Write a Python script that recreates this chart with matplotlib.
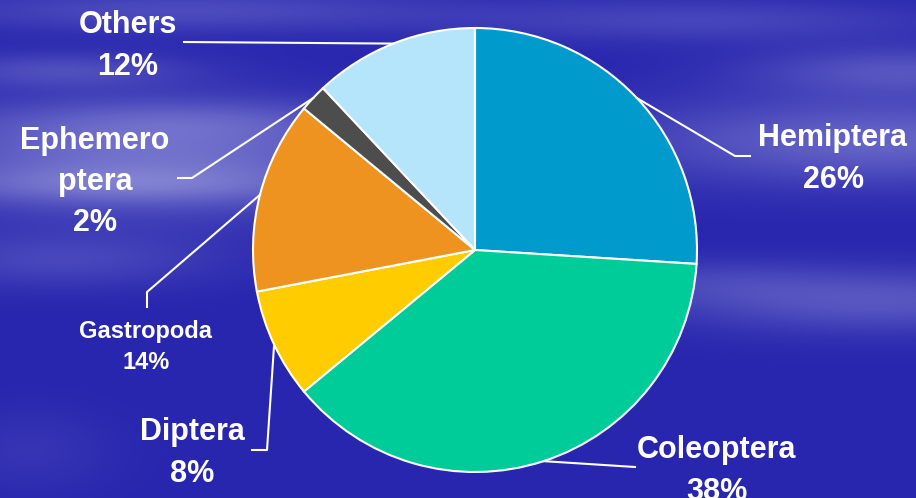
import numpy as np
import matplotlib.pyplot as plt

# insect groups in the diet, in percent
groups = ["Hemiptera", "Coleoptera", "Diptera", "Gastropoda", "Ephemero\nptera", "Others"]
shares = [26, 38, 8, 14, 2, 12]
colours = ["#009ACC", "#00CC99", "#FFCC00", "#EE931F", "#4D4D4D", "#B5E5FB"]

W, H = 916, 498
fig = plt.figure(figsize=(W / 100, H / 100), dpi=100)
ax = fig.add_axes([0, 0, 1, 1])

# blue sky-like backdrop with soft horizontal streaks
yy, xx = np.mgrid[0:H, 0:W]
bg = np.zeros((H, W))
streaks = [(150, 160, 260, 55, 0.6), (120, 185, 200, 18, 0.25), (180, 120, 200, 22, 0.22),
           (60, 70, 130, 18, 0.3), (180, 10, 260, 22, 0.3), (60, 260, 160, 28, 0.25),
           (880, 140, 260, 45, 0.5), (900, 70, 150, 24, 0.35), (700, 20, 250, 22, 0.25),
           (880, 300, 220, 32, 0.4), (700, 280, 120, 22, 0.15), (30, 450, 80, 40, 0.12)]
for sx0, sy0, sx, sy, a in streaks:
    bg += a * np.exp(-((xx - sx0) / sx) ** 2 - ((yy - sy0) / sy) ** 2)
bg = np.clip(bg, 0, 1)
dark = np.array([40, 38, 174]) / 255
light = np.array([160, 160, 222]) / 255
img = dark + bg[..., None] * (light - dark)
ax.imshow(img, extent=(0, W, 0, H), origin="upper", zorder=0)

cx, cy, r = 475, H - 250, 222
wedges, _ = ax.pie(shares, colors=colours, startangle=90, counterclock=False,
                   center=(cx, cy), radius=r, frame=True,
                   wedgeprops=dict(edgecolor="white", linewidth=1.5))

# elbow and end of each leader line, then label centre (pixels from top)
leaders = [
    [(735, 156), (750, 156)],
    [(635, 467)],
    [(267, 450), (252, 450)],
    [(147, 292), (147, 307)],
    [(192, 178), (178, 178)],
    [(184, 42)],
]
label_pos = [(833, 159), (717, 471), (192, 453), (146, 347), (95, 182), (128, 46)]
sizes = [22, 22, 22, 17, 22, 22]

for w, name, pct, pts, (lx, ly), fs in zip(wedges, groups, shares, leaders, label_pos, sizes):
    mid = np.deg2rad((w.theta1 + w.theta2) / 2)
    x0, y0 = cx + r * np.cos(mid), cy + r * np.sin(mid)
    xs = [x0] + [p[0] for p in pts]
    ys = [y0] + [H - p[1] for p in pts]
    ax.plot(xs, ys, color="white", lw=1.5, zorder=3)
    ax.text(lx, H - ly, f"{name}\n{pct}%", color="white", fontsize=fs,
            fontweight="bold", family="Liberation Sans", ha="center", va="center",
            linespacing=1.48, zorder=4)

ax.set_xlim(0, W)
ax.set_ylim(0, H)
ax.set_aspect("equal")
ax.axis("off")
fig.savefig("out.png", dpi=100)
